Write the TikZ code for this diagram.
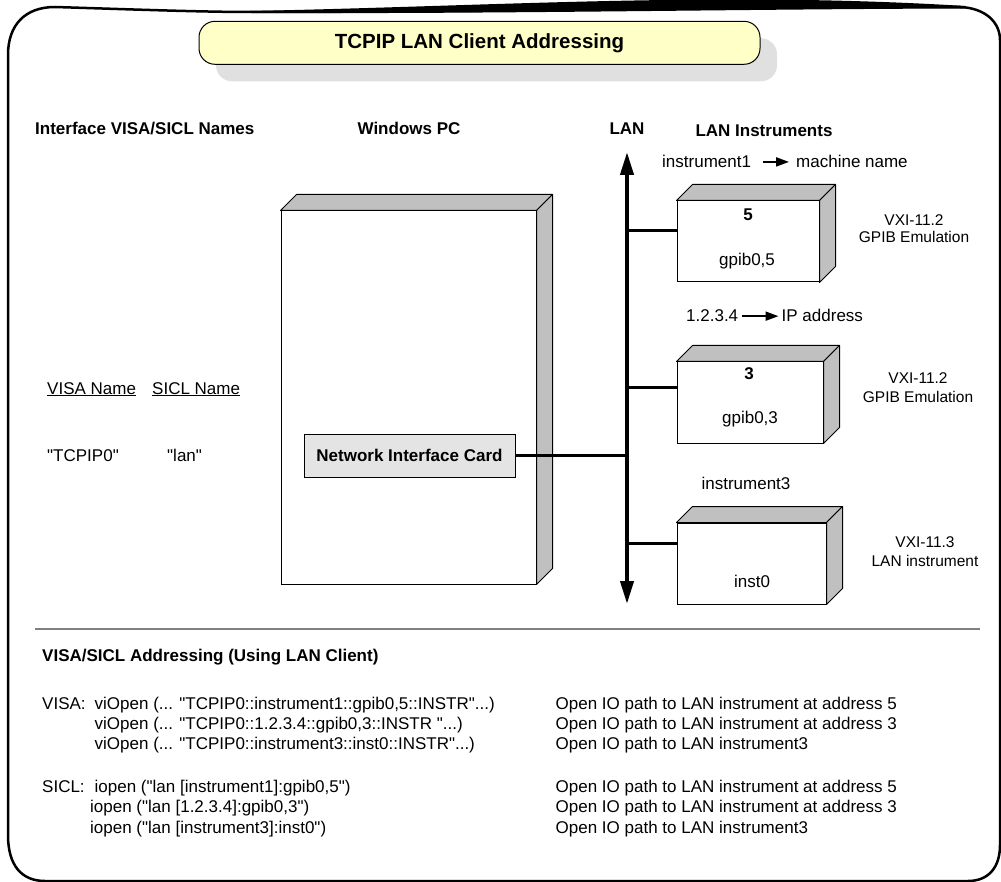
\documentclass[tikz,border=0pt]{standalone}
\usepackage{fontspec}
\setmainfont{Liberation Sans}[Ligatures=TeXOff]
\usepackage{xcolor}
\usetikzlibrary{arrows.meta,positioning}

\definecolor{titlefill}{RGB}{255,255,200}
\definecolor{sidegray}{RGB}{192,192,192}
\definecolor{shadowgray}{RGB}{224,224,224}
\definecolor{cardgray}{RGB}{228,228,228}

\begin{document}
\begin{tikzpicture}[
  x=1pt, y=-1pt,
  txt/.style={inner sep=0pt, font=\fontsize{17}{20}\selectfont},
  hdr/.style={inner sep=0pt, font=\fontsize{17}{20}\selectfont\bfseries},
  small/.style={inner sep=0pt, font=\fontsize{15.5}{18}\selectfont},
  front/.style={draw, line width=1pt, fill=white, inner sep=0pt},
  side/.style={draw, line width=1pt, fill=sidegray, line join=round},
  wire/.style={line width=3pt},
  ptr/.style={line width=2pt, -{Triangle[length=13pt,width=9pt]}},
  lan/.style={line width=4pt, {Triangle[length=23pt,width=13pt]}-{Triangle[length=23pt,width=13pt]}}
]
\useasboundingbox (0,0) rectangle (1001,882);

% outer frame
\draw[line width=2.5pt] (8,55) .. controls (8,25) and (25,7) .. (55,7)
  .. controls (120,9) and (200,12) .. (250,12) .. controls (500,12) and (750,6) .. (960,7)
  .. controls (985,8) and (1000,22) .. (1000,40) -- (1000,845)
  .. controls (1000,868) and (988,881) .. (968,881) -- (45,881)
  .. controls (22,881) and (8,866) .. (8,835) -- cycle;
\fill (250,11) .. controls (500,6) and (720,-9) .. (965,6) -- (965,8.5)
  .. controls (750,9) and (500,14) .. (250,13) -- cycle;

% title
\node[fill=shadowgray, rounded corners=16pt, minimum width=561pt, minimum height=43pt] (titleshadow) at (496.5,59.8) {};
\node[draw, line width=1pt, fill=titlefill, rounded corners=16pt, minimum width=561pt, minimum height=43pt,
  font=\fontsize{20.5}{24}\selectfont\bfseries] (title) at (479.5,42.8) {TCPIP LAN Client Addressing};

% column headings
\node[hdr, anchor=base west] (ifnames) at (35,135) {Interface VISA/SICL Names};
\node[hdr, anchor=base] (pchead) at (409,135) {Windows PC};
\node[hdr, anchor=base] (lanhead) at (627,135) {LAN};
\node[hdr, anchor=base] (insthead) at (764,137) {LAN Instruments};

% PC and instruments
\node[front, minimum width=255pt, minimum height=373pt] (pc) at (408.5,397.5) {};
\node[front, minimum width=142pt, minimum height=81pt] (instA) at (748,241.5) {};
\node[front, minimum width=146pt, minimum height=81pt] (instB) at (750,402.5) {};
\node[front, minimum width=149pt, minimum height=81pt] (instC) at (751.5,563.5) {};
\foreach \n in {pc,instA,instB,instC}{
  \draw[side] (\n.north west) -- ++(16,-16) -- ([shift={(16,-16)}]\n.north east) -- (\n.north east) -- cycle;
  \draw[side] (\n.north east) -- ++(16,-16) -- ([shift={(16,-16)}]\n.south east) -- (\n.south east) -- cycle;
}
\node[draw, line width=1pt, fill=cardgray, minimum width=211pt, minimum height=43pt,
  font=\fontsize{17}{20}\selectfont\bfseries] (nic) at (409.5,455.5) {Network Interface Card};

% LAN bus
\coordinate (lanTop) at (627,152);
\coordinate (lanBot) at (627,604);
\draw[lan] (lanTop) -- (lanBot);
\draw[wire] (nic.east) -- (nic.east -| lanTop);
\draw[wire] ([yshift=-30pt]instA.north west) coordinate (tapA) -- (tapA -| lanTop);
\draw[wire] ([yshift=-26pt]instB.north west) coordinate (tapB) -- (tapB -| lanTop);
\draw[wire] ([yshift=-21pt]instC.north west) coordinate (tapC) -- (tapC -| lanTop);

% instrument labels
\node[txt, anchor=base west] (hostA) at (662,168) {instrument1};
\node[txt, anchor=base west] (hostAkind) at (796,168) {machine name};
\draw[ptr, shorten <=12pt, shorten >=7pt] (hostA.east) -- (hostA.east -| hostAkind.west);
\node[hdr, anchor=base] (numA) at (748,221) {5};
\node[txt, anchor=base] (addrA) at (747,266) {gpib0,5};
\node[small, anchor=base] (vxiA) at (914,225.5) {VXI-11.2};
\node[small, anchor=base] (emuA) at (914,243) {GPIB Emulation};

\node[txt, anchor=base west] (hostB) at (686,322) {1.2.3.4};
\node[txt, anchor=base west] (hostBkind) at (781.5,322) {IP address};
\draw[ptr, shorten <=4pt, shorten >=3pt] (hostB.east) -- (hostB.east -| hostBkind.west);
\node[hdr, anchor=base] (numB) at (749,380) {3};
\node[txt, anchor=base] (addrB) at (750,423.5) {gpib0,3};
\node[small, anchor=base] (vxiB) at (918,383.5) {VXI-11.2};
\node[small, anchor=base] (emuB) at (918,402.5) {GPIB Emulation};

\node[txt, anchor=base] (hostC) at (746,489) {instrument3};
\node[txt, anchor=base] (addrC) at (752,587) {inst0};
\node[small, anchor=base] (vxiC) at (925,547.5) {VXI-11.3};
\node[small, anchor=base] (emuC) at (925,566.5) {LAN instrument};

% interface names
\node[txt, anchor=base west] (visaname) at (47,394) {\underline{VISA Name}};
\node[txt, anchor=base west] (siclname) at (152,394) {\underline{SICL Name}};
\node[txt, anchor=base west] (visaval) at (47,461) {"TCPIP0"};
\node[txt, anchor=base west] (siclval) at (167,461) {"lan"};

% addressing summary
\draw[gray, line width=1.5pt] (35,629) -- (980,629);
\node[hdr, anchor=base west] (addrhead) at (42,661) {VISA/SICL Addressing (Using LAN Client)};
\node[txt, anchor=base west] (visatag) at (42,709) {VISA:};
\node[txt, anchor=base west] (visa1) at (94.5,709) {viOpen (... "TCPIP0::instrument1::gpib0,5::INSTR"...)};
\node[txt, anchor=base west] (visa2) at (94.5,729) {viOpen (... "TCPIP0::1.2.3.4::gpib0,3::INSTR "...)};
\node[txt, anchor=base west] (visa3) at (94.5,749) {viOpen (... "TCPIP0::instrument3::inst0::INSTR"...)};
\node[txt, anchor=base west] (sicltag) at (42,792) {SICL:};
\node[txt, anchor=base west] (sicl1) at (94.5,792) {iopen ("lan [instrument1]:gpib0,5")};
\node[txt, anchor=base west] (sicl2) at (90,812) {iopen ("lan [1.2.3.4]:gpib0,3")};
\node[txt, anchor=base west] (sicl3) at (90,833) {iopen ("lan [instrument3]:inst0")};
\foreach \y/\t [count=\i] in {709/{Open IO path to LAN instrument at address 5},
    729/{Open IO path to LAN instrument at address 3}, 749/{Open IO path to LAN instrument3},
    792/{Open IO path to LAN instrument at address 5}, 812/{Open IO path to LAN instrument at address 3},
    833/{Open IO path to LAN instrument3}}
  \node[txt, anchor=base west] (note\i) at (555.5,\y) {\t};
\end{tikzpicture}
\end{document}
